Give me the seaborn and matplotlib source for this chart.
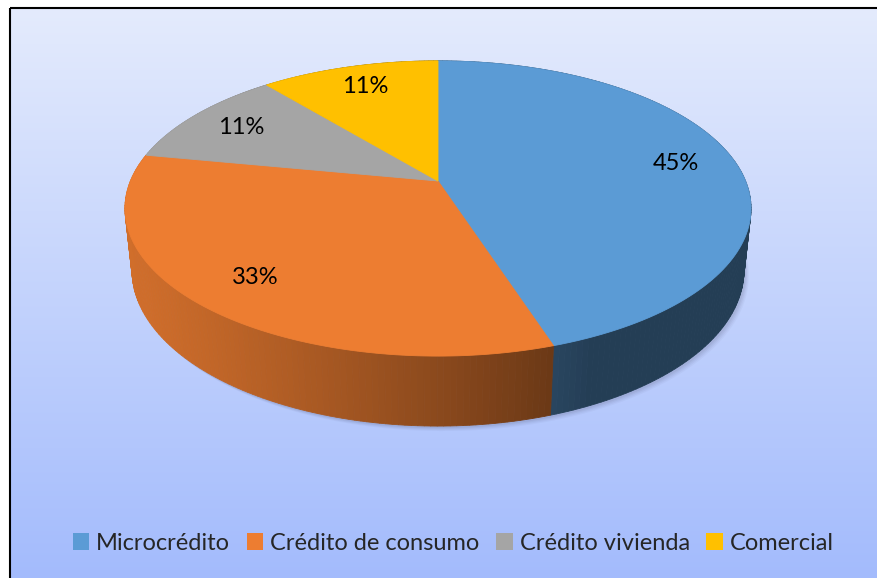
import numpy as np
import matplotlib
matplotlib.use("Agg")
import matplotlib.pyplot as plt
import seaborn as sns
from matplotlib.patches import Polygon, Rectangle, Patch
from matplotlib.colors import to_rgb

# data
categories = ["Microcrédito", "Crédito de consumo", "Crédito vivienda", "Comercial"]
shares = [45, 33, 11, 11]
colors = ["#5B9BD5", "#ED7D31", "#A5A5A5", "#FFC000"]

sns.set_style("white")
plt.rcParams["font.family"] = ["Lato", "DejaVu Sans"]

W, H = 877, 578
fig = plt.figure(figsize=(W / 100, H / 100), dpi=100)
ax = fig.add_axes([0, 0, 1, 1])
ax.set_xlim(0, W)
ax.set_ylim(H, 0)
ax.axis("off")

# gradient background + frame
grad = np.linspace(0, 1, 256)[:, None, None]
c_top = np.array(to_rgb("#E4EBFD"))
c_bot = np.array(to_rgb("#A3BBFC"))
img = c_top + (c_bot - c_top) * grad
ax.imshow(img, extent=(10, W + 2, H + 2, 8), aspect="auto", zorder=0)
ax.add_patch(Rectangle((10, 8), W, H, fill=False, ec="black", lw=1.5, zorder=1))

# simple perspective projection of a flat cylinder
cx, cy = 438, 181
f, D = 1464, 4.76
tilt = np.radians(27.6)
s, c = np.sin(tilt), np.cos(tilt)
depth = 0.229


def project(t, r=1.0, h=0.0):
    X = r * np.cos(t)
    Z = r * np.sin(t)
    Y = -h
    yc = Y * c + Z * s
    zc = -Y * s + Z * c + D
    return cx + f * X / zc, cy - f * yc / zc


def shade(t_deg):
    k = 0.435 + 0.442 * np.cos(np.radians(t_deg - 200))
    return np.clip(k, 0.4, 1.0)


total = sum(shares)
bounds = 90 - 360 * np.concatenate([[0], np.cumsum(shares)]) / total

# soft shadow under the pie
tt = np.radians(np.linspace(0, 360, 200))
bx, by = project(tt, h=depth)
for i, a in enumerate([0.07, 0.06, 0.05, 0.04]):
    ax.add_patch(Polygon(np.column_stack([bx + 2 + i, by + 2 + i]),
                         closed=True, fc="#404060", ec="none", alpha=a, zorder=2))

# side wall, far to near
quads = []
for i in range(len(shares)):
    t0, t1 = bounds[i], bounds[i + 1]
    steps = np.linspace(t0, t1, max(int(abs(t1 - t0)), 2) + 1)
    for a, b in zip(steps[:-1], steps[1:]):
        ta, tb = np.radians(a), np.radians(b)
        x1, y1 = project(ta)
        x2, y2 = project(tb)
        x3, y3 = project(tb, h=depth)
        x4, y4 = project(ta, h=depth)
        col = np.array(to_rgb(colors[i])) * shade((a + b) / 2)
        quads.append((np.sin((ta + tb) / 2),
                      [[x1, y1], [x2, y2], [x3, y3], [x4, y4]], col))
quads.sort(key=lambda q: -q[0])
for _, pts, col in quads:
    ax.add_patch(Polygon(pts, closed=True, fc=col, ec=col, lw=0.6, zorder=3))

# top faces
for i in range(len(shares)):
    t = np.radians(np.linspace(bounds[i], bounds[i + 1], 120))
    rx, ry = project(t)
    pts = np.column_stack([np.r_[cx, rx], np.r_[cy, ry]])
    ax.add_patch(Polygon(pts, closed=True, fc=colors[i], ec=colors[i],
                         lw=0.6, zorder=4))

# percentage labels
for i, v in enumerate(shares):
    mid = np.radians((bounds[i] + bounds[i + 1]) / 2)
    lx, ly = project(mid, r=0.8)
    ax.text(lx, ly, f"{round(100 * v / total)}%", ha="center", va="center",
            fontsize=17, color="black", zorder=5)

handles = [Patch(fc=col, ec="none") for col in colors]
fig.legend(handles, categories, loc="center", bbox_to_anchor=(0.517, 1 - 543 / H),
           ncol=4, frameon=False, fontsize=17, handlelength=0.7, handleheight=0.7,
           handletextpad=0.3, columnspacing=0.7)

fig.savefig("out.png", dpi=100)
